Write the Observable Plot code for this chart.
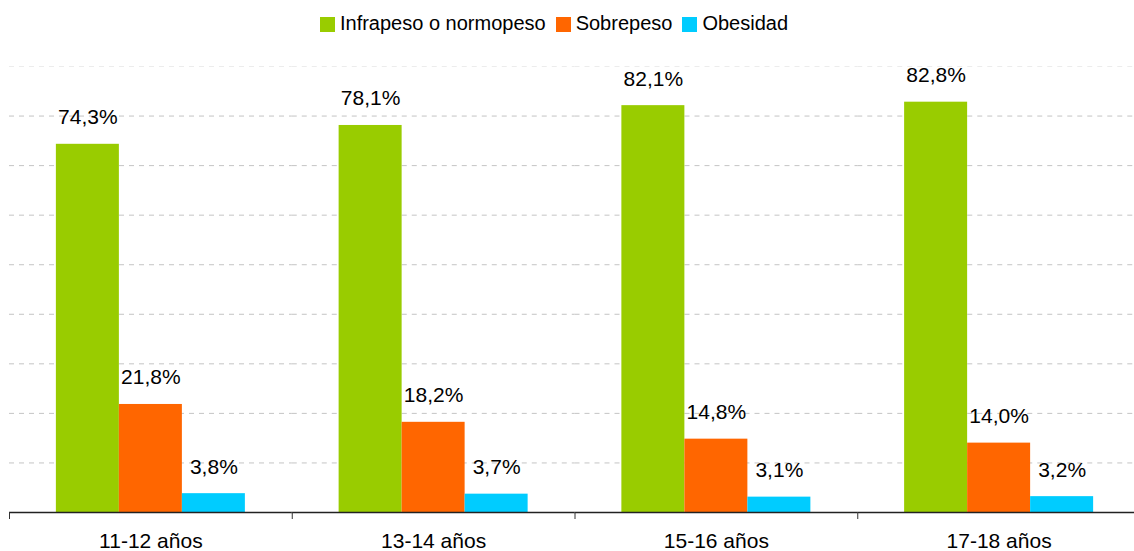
<!DOCTYPE html>
<html>
<head>
<meta charset="utf-8">
<script src="https://cdn.jsdelivr.net/npm/d3@7"></script>
<script src="https://cdn.jsdelivr.net/npm/@observablehq/plot@0.6"></script>
<style>
  html, body { margin: 0; padding: 0; background: #fff; }
  #wrap { width: 1134px; height: 551px; overflow: hidden; font-family: "Liberation Sans", Arial, sans-serif; }
  #legend { height: 46px; display: flex; justify-content: center; align-items: center; padding-right: 16px; font-size: 20px; color: #000; }
  #legend .item { display: flex; align-items: center; margin-right: 10px; }
  #legend .sw { width: 15px; height: 15px; margin-right: 5px; position: relative; top: 1px; }
  #chart svg { display: block; max-width: none !important; }
</style>
</head>
<body>
<div id="wrap">
  <div id="legend"></div>
  <div id="chart"></div>
</div>
<script>
const ages = ["11-12 años", "13-14 años", "15-16 años", "17-18 años"];
const series = ["Infrapeso o normopeso", "Sobrepeso", "Obesidad"];
const colors = ["#99CC00", "#FF6600", "#00CCFF"];
const normopeso = [74.3, 78.1, 82.1, 82.8];
const sobrepeso = [21.8, 18.2, 14.8, 14.0];
const obesidad = [3.8, 3.7, 3.1, 3.2];
const gridTicks = [10, 20, 30, 40, 50, 60, 70, 80];
const topTick = [90];

const valuesBySeries = [normopeso, sobrepeso, obesidad];
const data = [];
ages.forEach((age, i) => {
  series.forEach((s, j) => {
    data.push({age, series: s, value: valuesBySeries[j][i]});
  });
});
const fmt = v => v.toFixed(1).replace(".", ",") + "%";

// Legend
const legend = d3.select("#legend");
series.forEach((s, j) => {
  const it = legend.append("div").attr("class", "item");
  it.append("div").attr("class", "sw").style("background", colors[j]);
  it.append("span").text(s);
});

const chart = Plot.plot({
  width: 1140,
  height: 505,
  marginLeft: 9,
  marginRight: 0,
  marginTop: 20,
  marginBottom: 33,
  style: {fontFamily: '"Liberation Sans", Arial, sans-serif', color: "#000", background: "#fff", overflow: "hidden", maxWidth: "none"},
  fx: {domain: ages, padding: 0, round: false, label: null},
  x: {domain: series, paddingInner: 0, paddingOuter: 0.744, round: false, axis: null},
  y: {domain: [0, 90], range: [466, 20], axis: null},
  color: {domain: series, range: colors},
  marks: [
    Plot.gridY(gridTicks, {stroke: "#c4c4c4", strokeOpacity: 1, strokeDasharray: "5,5"}),
    Plot.gridY(topTick, {stroke: "#ececec", strokeOpacity: 1, strokeDasharray: "5,5"}),
    Plot.barY(data, {fx: "age", x: "series", y: "value", fill: "series"}),
    Plot.ruleY([0], {stroke: "#222", strokeWidth: 1.3}),
    Plot.frame({anchor: "left", stroke: "#333", insetTop: 446}),
    Plot.text(data, {fx: "age", x: "series", y: "value", text: d => fmt(d.value), dy: -20, lineAnchor: "bottom", fontSize: 21, fill: "#000"}),
    Plot.axisFx({anchor: "bottom", tickSize: 0, tickPadding: 15, fontSize: 21, label: null})
  ]
});
document.getElementById("chart").appendChild(chart);
</script>
</body>
</html>
